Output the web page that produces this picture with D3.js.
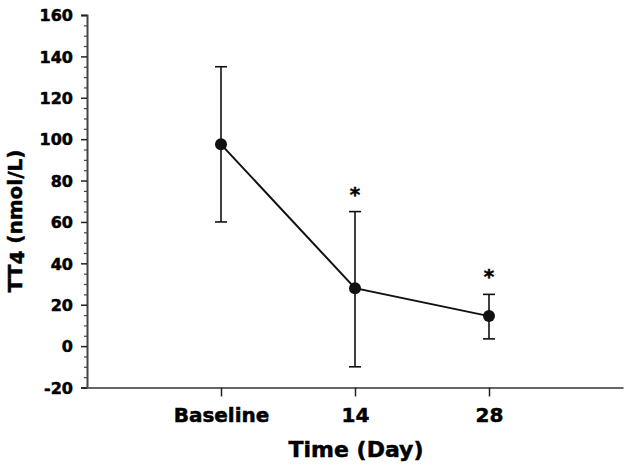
<!DOCTYPE html>
<html><head><meta charset="utf-8">
<script src="https://cdn.jsdelivr.net/npm/d3@7"></script>
<style>body{margin:0;background:#fff}svg{display:block}text{font-family:"DejaVu Sans",sans-serif;font-weight:bold;fill:#000;stroke:#000;stroke-width:0.5px}</style>
</head><body><svg id="c" width="627" height="468"></svg>
<script>
const categories = ["Baseline", "14", "28"];
const means = [97.5, 28, 14.5];
const lower = [60, -10, 3.5];
const upper = [135, 65, 25];
const significant = [false, true, true];
const yTicks = [-20, 0, 20, 40, 60, 80, 100, 120, 140, 160];

const svg = d3.select("#c");
const x = d3.scaleLinear().domain([-1, 3]).range([87, 623]);
const y = d3.scaleLinear().domain([-20, 160]).range([387.5, 15]);

// Y axis major
const yAxis = svg.append("g").attr("transform", "translate(87,0)")
  .call(d3.axisLeft(y).tickValues(yTicks).tickSize(6).tickPadding(8).tickFormat(d => String(d)));
yAxis.select(".domain").attr("stroke", "#444").attr("stroke-width", 2);
yAxis.selectAll(".tick line").attr("stroke", "#222").attr("stroke-width", 1.5);
yAxis.selectAll(".tick text").style("font-size", "16px").attr("dy", "0.36em");
// Y axis minor
const minor = d3.range(-20, 161, 5).filter(v => v % 20 !== 0);
svg.append("g").attr("transform", "translate(87,0)")
  .call(d3.axisLeft(y).tickValues(minor).tickSize(3).tickFormat(""))
  .call(g => g.select(".domain").remove())
  .selectAll(".tick line").attr("stroke", "#444").attr("stroke-width", 1.2);

// X axis
const xAxis = svg.append("g").attr("transform", "translate(0,387.5)")
  .call(d3.axisBottom(x).tickValues([0, 1, 2]).tickSize(9).tickPadding(12)
    .tickFormat(i => categories[i]).tickSizeOuter(0));
xAxis.select(".domain").attr("stroke", "#666").attr("stroke-width", 2);
xAxis.selectAll(".tick line").attr("stroke", "#222").attr("stroke-width", 1.5);
xAxis.selectAll(".tick text").style("font-size", "20px").attr("dy", "0.68em");

// axis titles
svg.append("text").attr("x", 356).attr("y", 457).attr("text-anchor", "middle")
  .style("font-size", "22px").text("Time (Day)");
const yl = svg.append("text").attr("transform", "translate(22,221) rotate(-90)")
  .attr("text-anchor", "middle").style("font-size", "20px");
yl.append("tspan").text("TT");
yl.append("tspan").attr("dy", 2).text("4");
yl.append("tspan").attr("dy", -2).text(" (nmol/L)");

// error bars
const idx = d3.range(categories.length);
const eb = svg.append("g").attr("stroke", "#111").attr("stroke-width", 1.6);
eb.selectAll(".v").data(idx).join("line")
  .attr("x1", i => x(i)).attr("x2", i => x(i))
  .attr("y1", i => y(lower[i])).attr("y2", i => y(upper[i]));
eb.selectAll(".cu").data(idx).join("line")
  .attr("x1", i => x(i) - 6).attr("x2", i => x(i) + 6)
  .attr("y1", i => y(upper[i])).attr("y2", i => y(upper[i]));
eb.selectAll(".cl").data(idx).join("line")
  .attr("x1", i => x(i) - 6).attr("x2", i => x(i) + 6)
  .attr("y1", i => y(lower[i])).attr("y2", i => y(lower[i]));

// line
svg.append("path").datum(idx)
  .attr("d", d3.line().x(i => x(i)).y(i => y(means[i])))
  .attr("fill", "none").attr("stroke", "#111").attr("stroke-width", 2);

// points
svg.selectAll(".pt").data(idx).join("circle")
  .attr("cx", i => x(i)).attr("cy", i => y(means[i])).attr("r", 6).attr("fill", "#111");

// significance stars
svg.selectAll(".star").data(idx.filter(i => significant[i])).join("text")
  .attr("x", i => x(i)).attr("y", i => y(upper[i]) - 11)
  .attr("text-anchor", "middle").style("font-size", "20px").text("*");
</script></body></html>
